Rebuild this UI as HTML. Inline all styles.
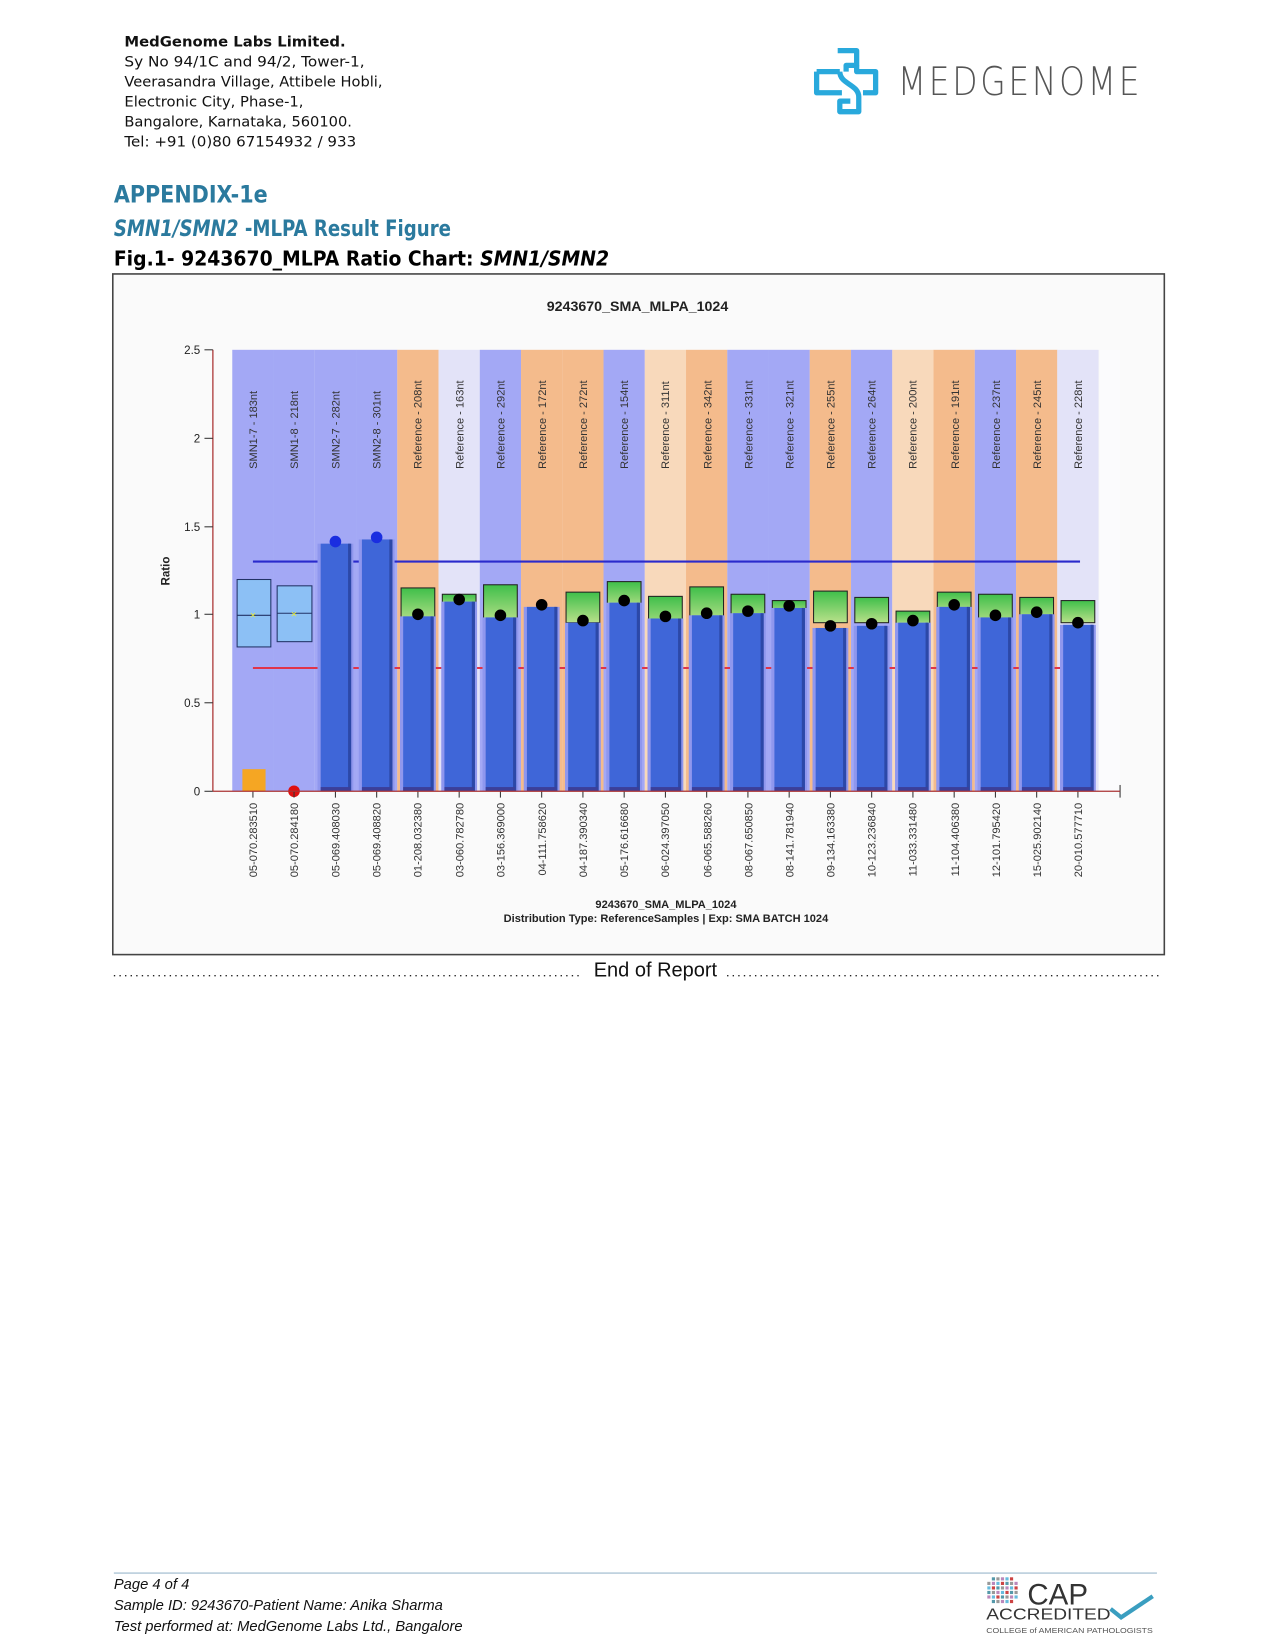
<!DOCTYPE html>
<html><head><meta charset="utf-8"><style>
html,body{margin:0;padding:0;background:#fff;}
svg{display:block;}
</style></head><body>
<svg id="s" xmlns="http://www.w3.org/2000/svg" width="1275" height="1650" viewBox="0 0 1210 1566" font-family="Liberation Sans, sans-serif">
<defs><linearGradient id="gr" x1="0" y1="0" x2="0" y2="1"><stop offset="0" stop-color="#3fbf4a"/><stop offset="1" stop-color="#b9e08a"/></linearGradient></defs>
<rect width="1210" height="1566" fill="#fff"/>
<g font-family="DejaVu Sans, sans-serif" font-size="13.5" fill="#111">
<text x="118" y="44" font-weight="bold" textLength="210" lengthAdjust="spacingAndGlyphs">MedGenome Labs Limited.</text>
<text x="118" y="63" textLength="228" lengthAdjust="spacingAndGlyphs">Sy No 94/1C and 94/2, Tower-1,</text>
<text x="118" y="82" textLength="245" lengthAdjust="spacingAndGlyphs">Veerasandra Village, Attibele Hobli,</text>
<text x="118" y="101" textLength="170" lengthAdjust="spacingAndGlyphs">Electronic City, Phase-1,</text>
<text x="118" y="120" textLength="216" lengthAdjust="spacingAndGlyphs">Bangalore, Karnataka, 560100.</text>
<text x="118" y="139" textLength="220" lengthAdjust="spacingAndGlyphs">Tel: +91 (0)80 67154932 / 933</text>
</g>
<g fill="none" stroke="#29a9dc" stroke-width="5" stroke-linejoin="round">
<path d="M795 48 h18 v14 h-10 v6"/>
<path d="M775 68 h22 M775 68 v20 h24 M813 62 v6 h18 v20 h-12"/>
<path d="M797 68 c0 12 18 12 18 24 v14 h-18 v-10 h10"/>
</g>
<text x="852" y="90" font-family="DejaVu Sans, sans-serif" font-size="37" fill="#555" letter-spacing="3" font-weight="300" textLength="232" lengthAdjust="spacingAndGlyphs">MEDGENOME</text>
<text x="108" y="192" font-family="DejaVu Sans Condensed, DejaVu Sans, sans-serif" font-weight="bold" font-size="23" fill="#2b7a9e" textLength="146" lengthAdjust="spacingAndGlyphs">APPENDIX-1e</text>
<text x="108" y="224" font-family="DejaVu Sans Condensed, DejaVu Sans, sans-serif" font-weight="bold" font-size="21" fill="#2b7a9e" textLength="320" lengthAdjust="spacingAndGlyphs"><tspan font-style="italic">SMN1/SMN2</tspan> -MLPA Result Figure</text>
<text x="108" y="252" font-family="DejaVu Sans, sans-serif" font-weight="bold" font-size="19" fill="#000" textLength="470" lengthAdjust="spacingAndGlyphs">Fig.1- 9243670_MLPA Ratio Chart: <tspan font-style="italic">SMN1/SMN2</tspan></text>
<rect x="107" y="260" width="998" height="646" fill="#fafafa" stroke="#444" stroke-width="1.5"/>
<text x="605" y="295" text-anchor="middle" font-size="13.5" font-weight="bold" fill="#222">9243670_SMA_MLPA_1024</text>
<g id="bands"></g>
<g id="plot"></g>
<g stroke="#a33" stroke-width="1.2">
<line x1="202" y1="332" x2="202" y2="751"/>
<line x1="202" y1="751" x2="1063" y2="751"/>
</g>
<g stroke="#333" stroke-width="1">
<line x1="194" y1="332" x2="202" y2="332"/><line x1="194" y1="416" x2="202" y2="416"/><line x1="194" y1="500" x2="202" y2="500"/><line x1="194" y1="583" x2="202" y2="583"/><line x1="194" y1="667" x2="202" y2="667"/><line x1="194" y1="751" x2="202" y2="751"/>
</g>
<g font-size="11" fill="#222" text-anchor="end">
<text x="190" y="336">2.5</text><text x="190" y="420">2</text><text x="190" y="504">1.5</text><text x="190" y="587">1</text><text x="190" y="671">0.5</text><text x="190" y="755">0</text>
</g>
<text transform="translate(161,542) rotate(-90)" text-anchor="middle" font-size="11" font-weight="bold" fill="#222">Ratio</text>
<g font-size="10.5" fill="#333">
<text transform="translate(244,445) rotate(-90)">SMN1-7 - 183nt</text>
<text transform="translate(283,445) rotate(-90)">SMN1-8 - 218nt</text>
<text transform="translate(322,445) rotate(-90)">SMN2-7 - 282nt</text>
<text transform="translate(361,445) rotate(-90)">SMN2-8 - 301nt</text>
<text transform="translate(400,445) rotate(-90)">Reference - 208nt</text>
<text transform="translate(440,445) rotate(-90)">Reference - 163nt</text>
<text transform="translate(479,445) rotate(-90)">Reference - 292nt</text>
<text transform="translate(518,445) rotate(-90)">Reference - 172nt</text>
<text transform="translate(557,445) rotate(-90)">Reference - 272nt</text>
<text transform="translate(596,445) rotate(-90)">Reference - 154nt</text>
<text transform="translate(635,445) rotate(-90)">Reference - 311nt</text>
<text transform="translate(675,445) rotate(-90)">Reference - 342nt</text>
<text transform="translate(714,445) rotate(-90)">Reference - 331nt</text>
<text transform="translate(753,445) rotate(-90)">Reference - 321nt</text>
<text transform="translate(792,445) rotate(-90)">Reference - 255nt</text>
<text transform="translate(831,445) rotate(-90)">Reference - 264nt</text>
<text transform="translate(870,445) rotate(-90)">Reference - 200nt</text>
<text transform="translate(910,445) rotate(-90)">Reference - 191nt</text>
<text transform="translate(949,445) rotate(-90)">Reference - 237nt</text>
<text transform="translate(988,445) rotate(-90)">Reference - 245nt</text>
<text transform="translate(1027,445) rotate(-90)">Reference - 228nt</text>
</g>
<g font-size="10.5" fill="#333" text-anchor="end">
<text transform="translate(244,762) rotate(-90)">05-070.283510</text>
<text transform="translate(283,762) rotate(-90)">05-070.284180</text>
<text transform="translate(322,762) rotate(-90)">05-069.408030</text>
<text transform="translate(361,762) rotate(-90)">05-069.408820</text>
<text transform="translate(400,762) rotate(-90)">01-208.032380</text>
<text transform="translate(440,762) rotate(-90)">03-060.782780</text>
<text transform="translate(479,762) rotate(-90)">03-156.369000</text>
<text transform="translate(518,762) rotate(-90)">04-111.758620</text>
<text transform="translate(557,762) rotate(-90)">04-187.390340</text>
<text transform="translate(596,762) rotate(-90)">05-176.616680</text>
<text transform="translate(635,762) rotate(-90)">06-024.397050</text>
<text transform="translate(675,762) rotate(-90)">06-065.588260</text>
<text transform="translate(714,762) rotate(-90)">08-067.650850</text>
<text transform="translate(753,762) rotate(-90)">08-141.781940</text>
<text transform="translate(792,762) rotate(-90)">09-134.163380</text>
<text transform="translate(831,762) rotate(-90)">10-123.236840</text>
<text transform="translate(870,762) rotate(-90)">11-033.331480</text>
<text transform="translate(910,762) rotate(-90)">11-104.406380</text>
<text transform="translate(949,762) rotate(-90)">12-101.795420</text>
<text transform="translate(988,762) rotate(-90)">15-025.902140</text>
<text transform="translate(1027,762) rotate(-90)">20-010.577710</text>
</g>
<text x="632" y="862" text-anchor="middle" font-size="10.5" font-weight="bold" fill="#222">9243670_SMA_MLPA_1024</text>
<text x="632" y="875" text-anchor="middle" font-size="10.5" font-weight="bold" fill="#222">Distribution Type: ReferenceSamples | Exp: SMA BATCH 1024</text>
<line x1="108" y1="926" x2="552" y2="926" stroke="#222" stroke-width="1.3" stroke-dasharray="1.3 4"/>
<line x1="690" y1="926" x2="1103" y2="926" stroke="#222" stroke-width="1.3" stroke-dasharray="1.3 4"/>
<text x="622" y="927" text-anchor="middle" font-size="19" fill="#111">End of Report</text>
<line x1="108" y1="1493" x2="1098" y2="1493" stroke="#9bb8cc" stroke-width="1"/>
<g font-size="14" font-style="italic" fill="#111">
<text x="108" y="1508">Page 4 of 4</text>
<text x="108" y="1528">Sample ID: 9243670-Patient Name: Anika Sharma</text>
<text x="108" y="1548">Test performed at: MedGenome Labs Ltd., Bangalore</text>
</g>
<g id="capdots"></g>
<text x="975" y="1523" font-size="28" fill="#333">CAP</text>
<text x="936" y="1537" font-size="15" fill="#333" textLength="118" lengthAdjust="spacingAndGlyphs">ACCREDITED</text>
<path d="M1054 1527 l10 8 l30 -20" fill="none" stroke="#3a9ec0" stroke-width="4"/>
<text x="936" y="1550" font-size="7" fill="#555" textLength="158" lengthAdjust="spacingAndGlyphs">COLLEGE of AMERICAN PATHOLOGISTS</text>
</svg>
<script>
(function(){
var NS="http://www.w3.org/2000/svg";
function el(p,t,a){var e=document.createElementNS(NS,t);for(var k in a)e.setAttribute(k,a[k]);p.appendChild(e);return e;}
var bands=document.getElementById('bands'),plot=document.getElementById('plot');
var B='#a3a8f5',O='#f4bb8c',L='#e3e3f8',P='#f8d9bb';
var col=[B,B,B,B,O,L,B,O,O,B,P,O,B,B,O,B,P,O,B,O,L];
var dot=[0,0,514,510,583,569,584,574,589,570,585,582,580,575,594,592,589,574,584,581,591];
var gt=[0,0,0,0,558,564,555,0,562,552,566,557,564,570,561,567,580,562,564,567,570];
var gb=[0,0,0,0,583,570,583,0,583,570,590,583,583,575,583,583,586,574,585,581,583];
for(var i=0;i<21;i++){var cx=240+39.15*i;el(bands,'rect',{x:cx-19.6,y:332,width:39.2,height:419,fill:col[i]});}
el(bands,'rect',{x:1044,y:332,width:19,height:419,fill:'#fbfbfd'});
el(plot,'line',{x1:240,y1:533,x2:1025,y2:533,stroke:'#2a2acc','stroke-width':2});
el(plot,'line',{x1:240,y1:634,x2:1025,y2:634,stroke:'#e0344a','stroke-width':2});
el(plot,'rect',{x:225,y:550,width:32,height:64,fill:'#8cc0f5',stroke:'#223366','stroke-width':1});
el(plot,'line',{x1:225,y1:584,x2:257,y2:584,stroke:'#223366'});
el(plot,'rect',{x:263,y:556,width:33,height:53,fill:'#8cc0f5',stroke:'#223366','stroke-width':1});
el(plot,'line',{x1:263,y1:582,x2:296,y2:582,stroke:'#223366'});
el(plot,'text',{x:240,y:587,'text-anchor':'middle','font-size':10,fill:'#ee3'}).textContent='×';
el(plot,'text',{x:279,y:586,'text-anchor':'middle','font-size':10,fill:'#ee3'}).textContent='×';
el(plot,'rect',{x:230,y:730,width:22,height:21,fill:'#f5a623'});
el(plot,'circle',{cx:279,cy:751,r:5.5,fill:'#e01010'});
for(var i=2;i<21;i++){var cx=240+39.15*i;
 if(gt[i]){el(plot,'rect',{x:cx-16,y:gt[i],width:32,height:gb[i]-gt[i]+8,fill:'url(#gr)',stroke:'#222','stroke-width':1});}
 el(plot,'rect',{x:cx-17,y:dot[i]+2,width:34,height:749-dot[i],fill:'#8f97ee'});
 el(plot,'rect',{x:cx-14,y:dot[i]+2,width:28,height:749-dot[i],fill:'#3f66d8'});
 el(plot,'rect',{x:cx+12,y:dot[i]+2,width:3,height:749-dot[i],fill:'#2c48a8'});
 el(plot,'rect',{x:cx-14,y:747,width:28,height:4,fill:'#3b3f9a'});
 el(plot,'circle',{cx:cx,cy:dot[i],r:5.5,fill:i<4?'#1a2ee0':'#000'});
 el(plot,'line',{x1:cx,y1:751,x2:cx,y2:757,stroke:'#333'});
}
el(plot,'line',{x1:240,y1:751,x2:240,y2:757,stroke:'#333'});el(plot,'line',{x1:279,y1:751,x2:279,y2:757,stroke:'#333'});
el(plot,'line',{x1:1063,y1:745,x2:1063,y2:757,stroke:'#333'});
var cd=document.getElementById('capdots');
var cs=['#c44','#59a','#999','#b8b','#6bd'];
for(var r=0;r<6;r++)for(var c=0;c<7;c++){if((r==0||r==5)&&(c==0||c==6))continue;el(cd,'rect',{x:937+c*4.3,y:1497+r*4.3,width:3,height:3,fill:cs[(r*7+c)%5]});}
})();
</script>
</body></html>
